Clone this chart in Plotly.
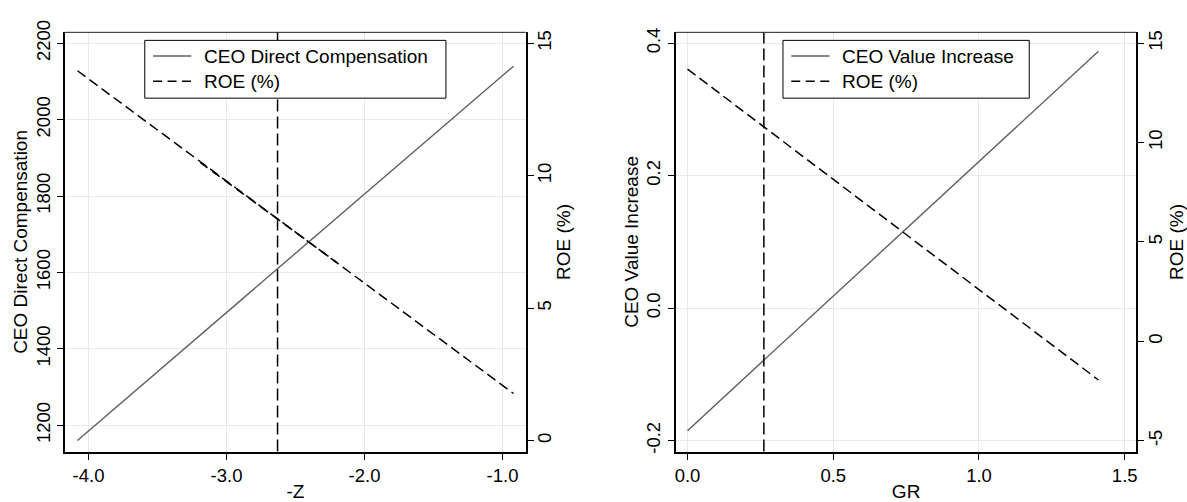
import plotly.graph_objects as go

# Left panel: CEO direct compensation and ROE against -Z
z_vals = [-4.08, -0.92]
comp_vals = [1160, 2140]
roe_left = [13.96, 1.78]
# ROE segment drawn a second time over the middle of the -Z range
z_mid = [-3.19, -2.2]
roe_left_mid = [10.5, 6.72]
z_mark = -2.63

# Right panel: CEO value increase and ROE against GR
gr_vals = [0.0, 1.41]
value_inc = [-0.185, 0.388]
roe_right = [13.7, -1.95]
gr_mark = 0.262

# Tick positions and labels (plain hyphen for negatives)
z_ticks = [-4.0, -3.0, -2.0, -1.0]
z_labels = ["-4.0", "-3.0", "-2.0", "-1.0"]
comp_ticks = [1200, 1400, 1600, 1800, 2000, 2200]
comp_labels = ["1200", "1400", "1600", "1800", "2000", "2200"]
roe_left_ticks = [0, 5, 10, 15]
roe_left_labels = ["0", "5", "10", "15"]
gr_ticks = [0.0, 0.5, 1.0, 1.5]
gr_labels = ["0.0", "0.5", "1.0", "1.5"]
val_ticks = [-0.2, 0.0, 0.2, 0.4]
val_labels = ["-0.2", "0.0", "0.2", "0.4"]
roe_right_ticks = [-5, 0, 5, 10, 15]
roe_right_labels = ["-5", "0", "5", "10", "15"]

FONT = "Liberation Sans, Arial, sans-serif"
FS_TICK = 18.5
FS_TEXT = 19
GRID = "#e9e9e9"
SOLID = "#5f5f5f"
DASH = "10px,5px"

W, H = 1187, 502
top_px, bot_px = 21, 454
yd = [(H - bot_px) / H, (H - top_px) / H]
left_dom = [64 / W, 525.7 / W]
right_dom = [676 / W, 1137.3 / W]

fig = go.Figure()

fig.add_trace(go.Scatter(x=z_vals, y=comp_vals, mode="lines", name="CEO Direct Compensation",
                         line=dict(color=SOLID, width=1.4), xaxis="x", yaxis="y"))
fig.add_trace(go.Scatter(x=z_vals, y=roe_left, mode="lines", name="ROE (%)",
                         line=dict(color="black", width=1.5, dash=DASH), xaxis="x", yaxis="y2"))
fig.add_trace(go.Scatter(x=gr_vals, y=value_inc, mode="lines", name="CEO Value Increase",
                         line=dict(color=SOLID, width=1.4), xaxis="x2", yaxis="y3"))
fig.add_trace(go.Scatter(x=gr_vals, y=roe_right, mode="lines", name="ROE (%)",
                         line=dict(color="black", width=1.5, dash=DASH), xaxis="x2", yaxis="y4"))
fig.add_trace(go.Scatter(x=z_mid, y=roe_left_mid, mode="lines", name="ROE (%)",
                         line=dict(color="black", width=1.6, dash="9px,6px"),
                         xaxis="x", yaxis="y2"))

# vertical reference lines
fig.add_shape(type="line", xref="x", yref="y domain", x0=z_mark, x1=z_mark, y0=0, y1=1,
              line=dict(color="black", width=1.5, dash="12px,5px"))
fig.add_shape(type="line", xref="x2", yref="y3 domain", x0=gr_mark, x1=gr_mark, y0=0, y1=1,
              line=dict(color="black", width=1.5, dash="12px,5px"))
# top frame edges
for xr, yr in (("x domain", "y domain"), ("x2 domain", "y3 domain")):
    fig.add_shape(type="line", xref=xr, yref=yr, x0=0, x1=1, y0=1, y1=1,
                  line=dict(color="#222222", width=1))


def px_x(p):
    return p / W


def px_y(p):
    return (H - p) / H


def add_key(box_left, box_right, entries):
    """Boxed key: white box, line sample and label for each entry."""
    fig.add_shape(type="rect", xref="paper", yref="paper",
                  x0=px_x(box_left), x1=px_x(box_right), y0=px_y(89), y1=px_y(29.3),
                  fillcolor="white", line=dict(color="black", width=1), layer="above")
    for (label, color, dash), yrow in zip(entries, (45.5, 71.5)):
        fig.add_shape(type="line", xref="paper", yref="paper",
                      x0=px_x(box_left + 8.3), x1=px_x(box_left + 46.7),
                      y0=px_y(yrow), y1=px_y(yrow),
                      line=dict(color=color, width=1.5, dash=dash), layer="above")
        fig.add_annotation(xref="paper", yref="paper", x=px_x(box_left + 57.5), y=px_y(yrow + 0.5),
                           text=label, showarrow=False, xanchor="left", yanchor="middle",
                           font=dict(family=FONT, size=FS_TEXT, color="black"))


add_key(144, 445.7, [(fig.data[0].name, SOLID, "solid"), (fig.data[1].name, "black", "9px,5.5px")])
add_key(783.3, 1030, [(fig.data[2].name, SOLID, "solid"), (fig.data[3].name, "black", "9px,5.5px")])

tickfont = dict(family=FONT, size=FS_TICK, color="black")
titlefont = dict(family=FONT, size=FS_TEXT, color="black")


def xax(dom, rng, tv, tt, title, anchor):
    return dict(domain=dom, range=rng, tickmode="array", tickvals=tv, ticktext=tt,
                showgrid=True, gridcolor=GRID, gridwidth=1, zeroline=False,
                showline=True, linecolor="black", linewidth=2,
                ticks="outside", ticklen=6, tickwidth=1, tickcolor="black",
                tickfont=tickfont, anchor=anchor,
                title=dict(text=title, font=titlefont, standoff=3))


def yax(rng, tv, tt, title, side="left", overlay=None, anchor=None, grid=True,
        standoff=0, label_shift=0):
    d = dict(domain=yd, range=rng, tickmode="array", tickvals=tv, ticktext=tt, side=side,
             showgrid=grid, gridcolor=GRID, gridwidth=1, zeroline=False,
             showline=True, linecolor="black", linewidth=2,
             ticks="outside", ticklen=6, tickwidth=1, tickcolor="black",
             tickangle=-90, tickfont=tickfont, ticklabelstandoff=label_shift,
             title=dict(text=title, font=titlefont, standoff=standoff))
    if overlay:
        d["overlaying"] = overlay
    if anchor:
        d["anchor"] = anchor
    return d


fig.update_layout(
    width=W, height=H,
    margin=dict(l=0, r=0, t=0, b=0),
    paper_bgcolor="white", plot_bgcolor="white",
    showlegend=False,
    xaxis=xax(left_dom, [-4.171, -0.831], z_ticks, z_labels, "-Z", "y"),
    yaxis=yax([1131, 2228.6], comp_ticks, comp_labels, "CEO Direct Compensation", anchor="x"),
    yaxis2=yax([-0.41, 15.41], roe_left_ticks, roe_left_labels, "ROE (%)", side="right",
               overlay="y", anchor="x", grid=False, standoff=3, label_shift=-5),
    xaxis2=xax(right_dom, [-0.04, 1.54], gr_ticks, gr_labels, "GR", "y3"),
    yaxis3=yax([-0.2165, 0.4165], val_ticks, val_labels, "CEO Value Increase", anchor="x2"),
    yaxis4=yax([-5.55, 15.55], roe_right_ticks, roe_right_labels, "ROE (%)", side="right",
               overlay="y3", anchor="x2", grid=False, standoff=3, label_shift=-5),
)

fig.write_html("out.html")
